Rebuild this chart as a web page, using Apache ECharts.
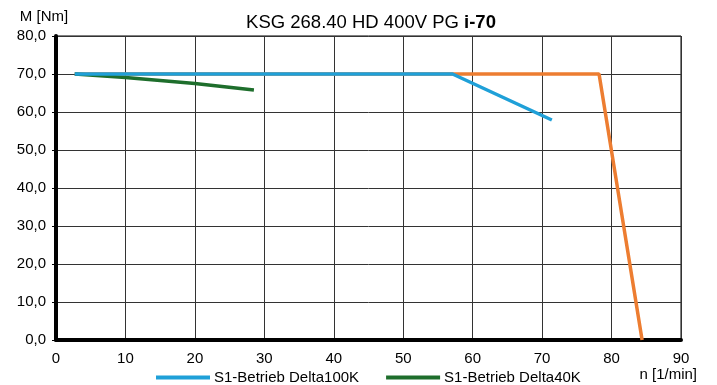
<!DOCTYPE html>
<html><head><meta charset="utf-8">
<script src="https://cdn.jsdelivr.net/npm/echarts@6/dist/echarts.min.js"></script>
<style>html,body{margin:0;padding:0;background:#fff}#c{width:717px;height:385px}</style>
</head><body><div id="c"></div>
<script>
const xTicks = [0,10,20,30,40,50,60,70,80,90];
const yTicks = [0,10,20,30,40,50,60,70,80];
const orangeX = [2.7, 78.2, 84.4];
const orangeY = [70, 70, 0];
const blueX = [2.7, 57.1, 71.4];
const blueY = [70, 70, 57.9];
const greenX = [2.7, 10, 20, 28.5];
const greenY = [70, 69.1, 67.5, 65.8];
const pair = (xs, ys) => xs.map((x, i) => [x, ys[i]]);
const font = 'Liberation Sans, Arial, sans-serif';
const chart = echarts.init(document.getElementById('c'));
chart.setOption({
  animation: false,
  title: {
    text: '{a|KSG 268.40 HD 400V PG }{b|i-70}',
    left: 366, top: 8, textAlign: 'center',
    textStyle: { fontWeight: 'normal', rich: {
      a: { fontFamily: font, fontSize: 18.5, color: '#000', fontWeight: 'normal' },
      b: { fontFamily: font, fontSize: 18.5, color: '#000', fontWeight: 'bold' }
    }}
  },
  grid: { left: 56, right: 36, top: 36, bottom: 45, show: true, borderColor: '#000', borderWidth: 1 },
  legend: {
    top: 365, left: 151, itemWidth: 54, itemHeight: 4, itemGap: 27,
    icon: 'rect',
    textStyle: { fontFamily: font, fontSize: 15, color: '#000', padding: [0, 0, 0, -1] },
    data: ['S1-Betrieb Delta100K', 'S1-Betrieb Delta40K']
  },
  xAxis: {
    type: 'value', min: xTicks[0], max: xTicks[xTicks.length-1], interval: 10,
    name: 'n [1/min]', nameLocation: 'end', nameGap: 0,
    nameTextStyle: { fontFamily: font, fontSize: 15, color: '#000', align: 'right', verticalAlign: 'top', padding: [27, -16, 0, 0] },
    axisLine: { show: true, onZero: false, lineStyle: { color: '#000', width: 4 } },
    axisTick: { show: false },
    axisLabel: { fontFamily: font, fontSize: 15, color: '#000', margin: 11 },
    splitLine: { show: true, lineStyle: { color: '#333', width: 1 } }
  },
  yAxis: {
    type: 'value', min: yTicks[0], max: yTicks[yTicks.length-1], interval: 10,
    name: 'M [Nm]', nameLocation: 'end', nameGap: 12,
    nameTextStyle: { fontFamily: font, fontSize: 15, color: '#000', align: 'center', padding: [0, 0, 0, -24] },
    axisLine: { show: true, lineStyle: { color: '#000', width: 4 } },
    axisTick: { show: true, length: 4, lineStyle: { color: '#000' } },
    axisLabel: { fontFamily: font, fontSize: 15, color: '#000', margin: 10,
      formatter: v => v.toFixed(1).replace('.', ',') },
    splitLine: { show: true, lineStyle: { color: '#333', width: 1 } }
  },
  series: [
    { name: 'orange', type: 'line', data: pair(orangeX, orangeY), showSymbol: false,
      lineStyle: { color: '#ED7D31', width: 3.5 }, itemStyle: { color: '#ED7D31' }, z: 1 },
    { name: 'S1-Betrieb Delta100K', type: 'line', data: pair(blueX, blueY), showSymbol: false,
      lineStyle: { color: '#1FA0D8', width: 3.5 }, itemStyle: { color: '#1FA0D8' }, z: 3 },
    { name: 'S1-Betrieb Delta40K', type: 'line', data: pair(greenX, greenY), showSymbol: false,
      lineStyle: { color: '#1E6E2C', width: 3.5 }, itemStyle: { color: '#1E6E2C' }, z: 2 }
  ]
});
</script></body></html>
